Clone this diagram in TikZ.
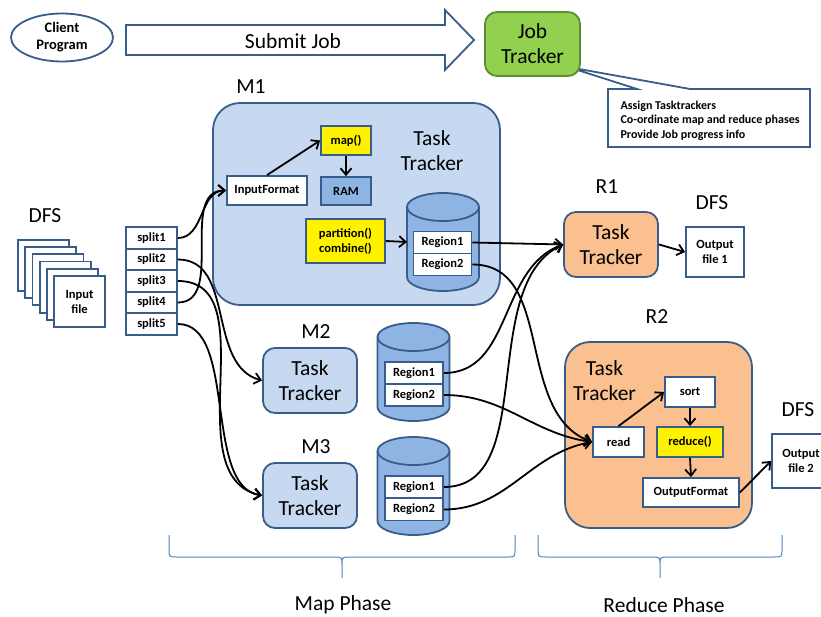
\documentclass[tikz,border=0pt]{standalone}
\usepackage{fontspec}
\setmainfont{Carlito}
\usetikzlibrary{shapes.geometric,arrows.meta}

\definecolor{boxline}{HTML}{385D8A}
\definecolor{paleblue}{HTML}{C6D9F1}
\definecolor{midblue}{HTML}{8EB4E3}
\definecolor{peach}{HTML}{FAC090}
\definecolor{jobgreen}{HTML}{92D050}
\definecolor{jobline}{HTML}{5E8B33}
\definecolor{braceline}{HTML}{4F81BD}

\newcommand{\bigtxt}{\fontsize{21.5}{25}\selectfont}
\newcommand{\smalltxt}{\fontsize{12.5}{15}\selectfont\bfseries}

\tikzset{
    smallbox/.style = {draw = boxline, fill = white, line width = 1.8pt, font = \smalltxt,
        align = center, inner sep = 0pt, minimum width = 50pt, minimum height = 29pt},
    region/.style = {smallbox, minimum width = 58pt, minimum height = 22pt},
    split/.style = {smallbox, minimum width = 51pt, minimum height = 21.5pt},
    page/.style = {smallbox, minimum width = 51pt, minimum height = 51pt},
    tracker/.style = {draw = boxline, fill = paleblue, line width = 1.8pt, rounded corners = 12pt,
        font = \bigtxt, align = center, inner sep = 0pt, minimum width = 94pt, minimum height = 65pt},
    bigbox/.style = {draw = boxline, fill = paleblue, line width = 1.8pt, rounded corners = 27pt},
    title/.style = {font = \bigtxt, align = center},
    phasebrace/.style = {draw = braceline, line width = 1pt},
    store/.pic = {
        \path [draw = boxline, fill = midblue, line width = 1.8pt] (-36, 0) -- (-36, -70)
            arc [start angle = 180, end angle = 360, x radius = 36pt, y radius = 14pt] -- (36, 0)
            arc [start angle = 0, end angle = 180, x radius = 36pt, y radius = 14pt] -- cycle;
        \draw [boxline, line width = 1.8pt] (-36, 0)
            arc [start angle = 180, end angle = 360, x radius = 36pt, y radius = 14pt];
        \coordinate (-west) at (-36, -35);
    }
}

\begin{document}
\begin{tikzpicture}[x = 1pt, y = 1pt, >={Straight Barb[length = 6.5pt, width = 11pt]}]
    \useasboundingbox (0, 0) rectangle (821, -617);

    % client and job tracker
    \node [ellipse, draw = boxline, line width = 1.8pt, fill = white, minimum width = 102pt,
        minimum height = 48pt, inner sep = 0pt, align = center,
        font = \fontsize{14.5}{17}\selectfont\bfseries] (client) at (62, -37.5) {Client\\Program};
    \draw [draw = boxline, fill = white, line width = 1.8pt] (126, -25) -- (445, -25) -- (445, -10)
        -- (474, -40) -- (445, -70) -- (445, -55) -- (126, -55) -- cycle;
    \node [title] (submit) at (293, -41) {Submit Job};
    \draw [draw = boxline, fill = white, line width = 1.8pt] (608, -89) -- (637, -89) -- (568, -67)
        -- (690, -89) -- (810, -89) -- (810, -147) -- (608, -147) -- cycle;
    \node [tracker, fill = jobgreen, draw = jobline, minimum width = 95pt, minimum height = 64pt]
        (jt) at (532.5, -44) {Job\\Tracker};
    \node [anchor = west, align = left, font = \fontsize{12}{14.5}\selectfont\bfseries] (duties)
        at (617, -120.5) {Assign Tasktrackers\\Co-ordinate map and reduce phases\\Provide Job progress info};

    % input file and splits
    \node [title] (dfsin) at (45, -216) {DFS};
    \foreach \i in {0, ..., 4}
        \node [page] (page\i) at ({43.5 + 7.2 * \i}, {-265.5 - 7.2 * \i}) {};
    \node [page] (infile) at (79.5, -301.5) {Input\\file};
    \foreach \i in {1, ..., 5}
        \node [split] (split\i) at (151.5, {-238 - 21.5 * (\i - 1)}) {split\i};

    % M1
    \node [title] (m1label) at (251, -87) {M1};
    \node [bigbox, minimum width = 287pt, minimum height = 202pt] (m1) at (356.5, -204) {};
    \node [title] (m1tt) at (432, -150.5) {Task\\Tracker};
    \node [smallbox, fill = yellow] (map) at (346, -140.5) {map()};
    \node [smallbox, fill = midblue, minimum height = 28pt] (ram) at (346, -191) {RAM};
    \node [smallbox, minimum width = 80pt] (infmt) at (267, -190.5) {InputFormat};
    \node [smallbox, fill = yellow, minimum width = 79pt, minimum height = 44pt] (part)
        at (345.5, -241) {partition()\\combine()};
    \pic (m1store) at (443, -207) {store};
    \node [region] (m1r1) at (442.5, -242.5) {Region1};
    \node [region] (m1r2) at (442.5, -264.5) {Region2};
    \draw [->, line width = 1.8pt] (infmt.north) -- (map.west);
    \draw [->, line width = 1.8pt] (map.south) -- (ram.north);
    \draw [->, line width = 1.8pt] (part.east) -- (m1store-west);

    % M2 and M3
    \node [title] (m2label) at (316, -332) {M2};
    \node [tracker] (m2) at (310, -380.5) {Task\\Tracker};
    \pic (m2store) at (413.5, -337) {store};
    \node [region] (m2r1) at (414, -373) {Region1};
    \node [region] (m2r2) at (414, -395) {Region2};
    \node [title] (m3label) at (316, -447) {M3};
    \node [tracker] (m3) at (310, -495.5) {Task\\Tracker};
    \pic (m3store) at (413.5, -451) {store};
    \node [region] (m3r1) at (414, -487) {Region1};
    \node [region] (m3r2) at (414, -509.5) {Region2};

    % R1
    \node [title] (r1label) at (607, -187) {R1};
    \node [tracker, fill = peach] (r1) at (611, -244.5) {Task\\Tracker};
    \node [title] (dfsout1) at (712, -203) {DFS};
    \node [smallbox, minimum width = 58pt, minimum height = 50pt] (out1) at (715, -252) {Output\\file 1};
    \draw [->, line width = 1.8pt] (r1.east) -- (out1.west);

    % R2
    \node [title] (r2label) at (657, -317) {R2};
    \node [bigbox, fill = peach, rounded corners = 25pt, minimum width = 187pt, minimum height = 186pt]
        (r2) at (658.5, -435) {};
    \node [title] (r2tt) at (604.5, -380.5) {Task\\Tracker};
    \node [smallbox, minimum height = 30pt] (sort) at (690, -392) {sort};
    \node [smallbox, minimum width = 51pt, minimum height = 30pt] (read) at (618.5, -442) {read};
    \node [smallbox, fill = yellow, minimum width = 66pt, minimum height = 30pt] (reduce)
        at (690, -442) {reduce()};
    \node [smallbox, minimum width = 96pt] (outfmt) at (691, -492.5) {OutputFormat};
    \node [title] (dfsout2) at (798, -410) {DFS};
    \node [smallbox, minimum width = 58pt, minimum height = 54pt] (out2) at (801, -461) {Output\\file 2};
    \draw [->, line width = 1.8pt] (read.north) -- (sort.west);
    \draw [->, line width = 1.8pt] (sort.south) -- (reduce.north);
    \draw [->, line width = 1.8pt] (reduce.south) -- (outfmt.north);
    \draw [->, line width = 1.8pt] (outfmt.east) -- (out2.west);

    % splits to map tasks
    \draw [->, line width = 1.8pt] (split1.east) to [out = 0, in = 180] (infmt.west);
    \draw [->, line width = 1.8pt] (split4.east) to [out = 0, in = 180] (infmt.west);
    \draw [->, line width = 1.8pt] (split2.east) to [out = 0, in = 165] (m2.west);
    \draw [->, line width = 1.8pt] (split3.east) to [out = 0, in = 168] (m3.west);
    \draw [->, line width = 1.8pt] (split5.east) to [out = 0, in = 172, looseness = 0.8] (m3.west);

    % regions to reduce tasks
    \draw [->, line width = 1.8pt] (m1r1.east) -- (r1.west);
    \draw [->, line width = 1.8pt] (m2r1.east) to [out = 0, in = 200] (r1.west);
    \draw [->, line width = 1.8pt] (m3r1.east) to [out = 0, in = 205, looseness = 0.9] (r1.west);
    \draw [->, line width = 1.8pt] (m1r2.east) to [out = 0, in = 160] (read.west);
    \draw [->, line width = 1.8pt] (m2r2.east) to [out = 0, in = 172] (read.west);
    \draw [->, line width = 1.8pt] (m3r2.east) to [out = 0, in = 190] (read.west);

    % phases
    \foreach \l/\m/\r in {169/342/515, 538/660/782}
        \draw [phasebrace] (\l, -535) -- (\l, -549) .. controls (\l, -557) .. ({\l + 8}, -557)
            -- ({\m - 8}, -557) .. controls (\m, -557) .. (\m, -565) -- (\m, -578)
            (\r, -535) -- (\r, -549) .. controls (\r, -557) .. ({\r - 8}, -557)
            -- ({\m + 8}, -557) .. controls (\m, -557) .. (\m, -565);
    \node [title] (mapphase) at (343, -605) {Map Phase};
    \node [title] (redphase) at (664, -605) {Reduce Phase};
\end{tikzpicture}
\end{document}
